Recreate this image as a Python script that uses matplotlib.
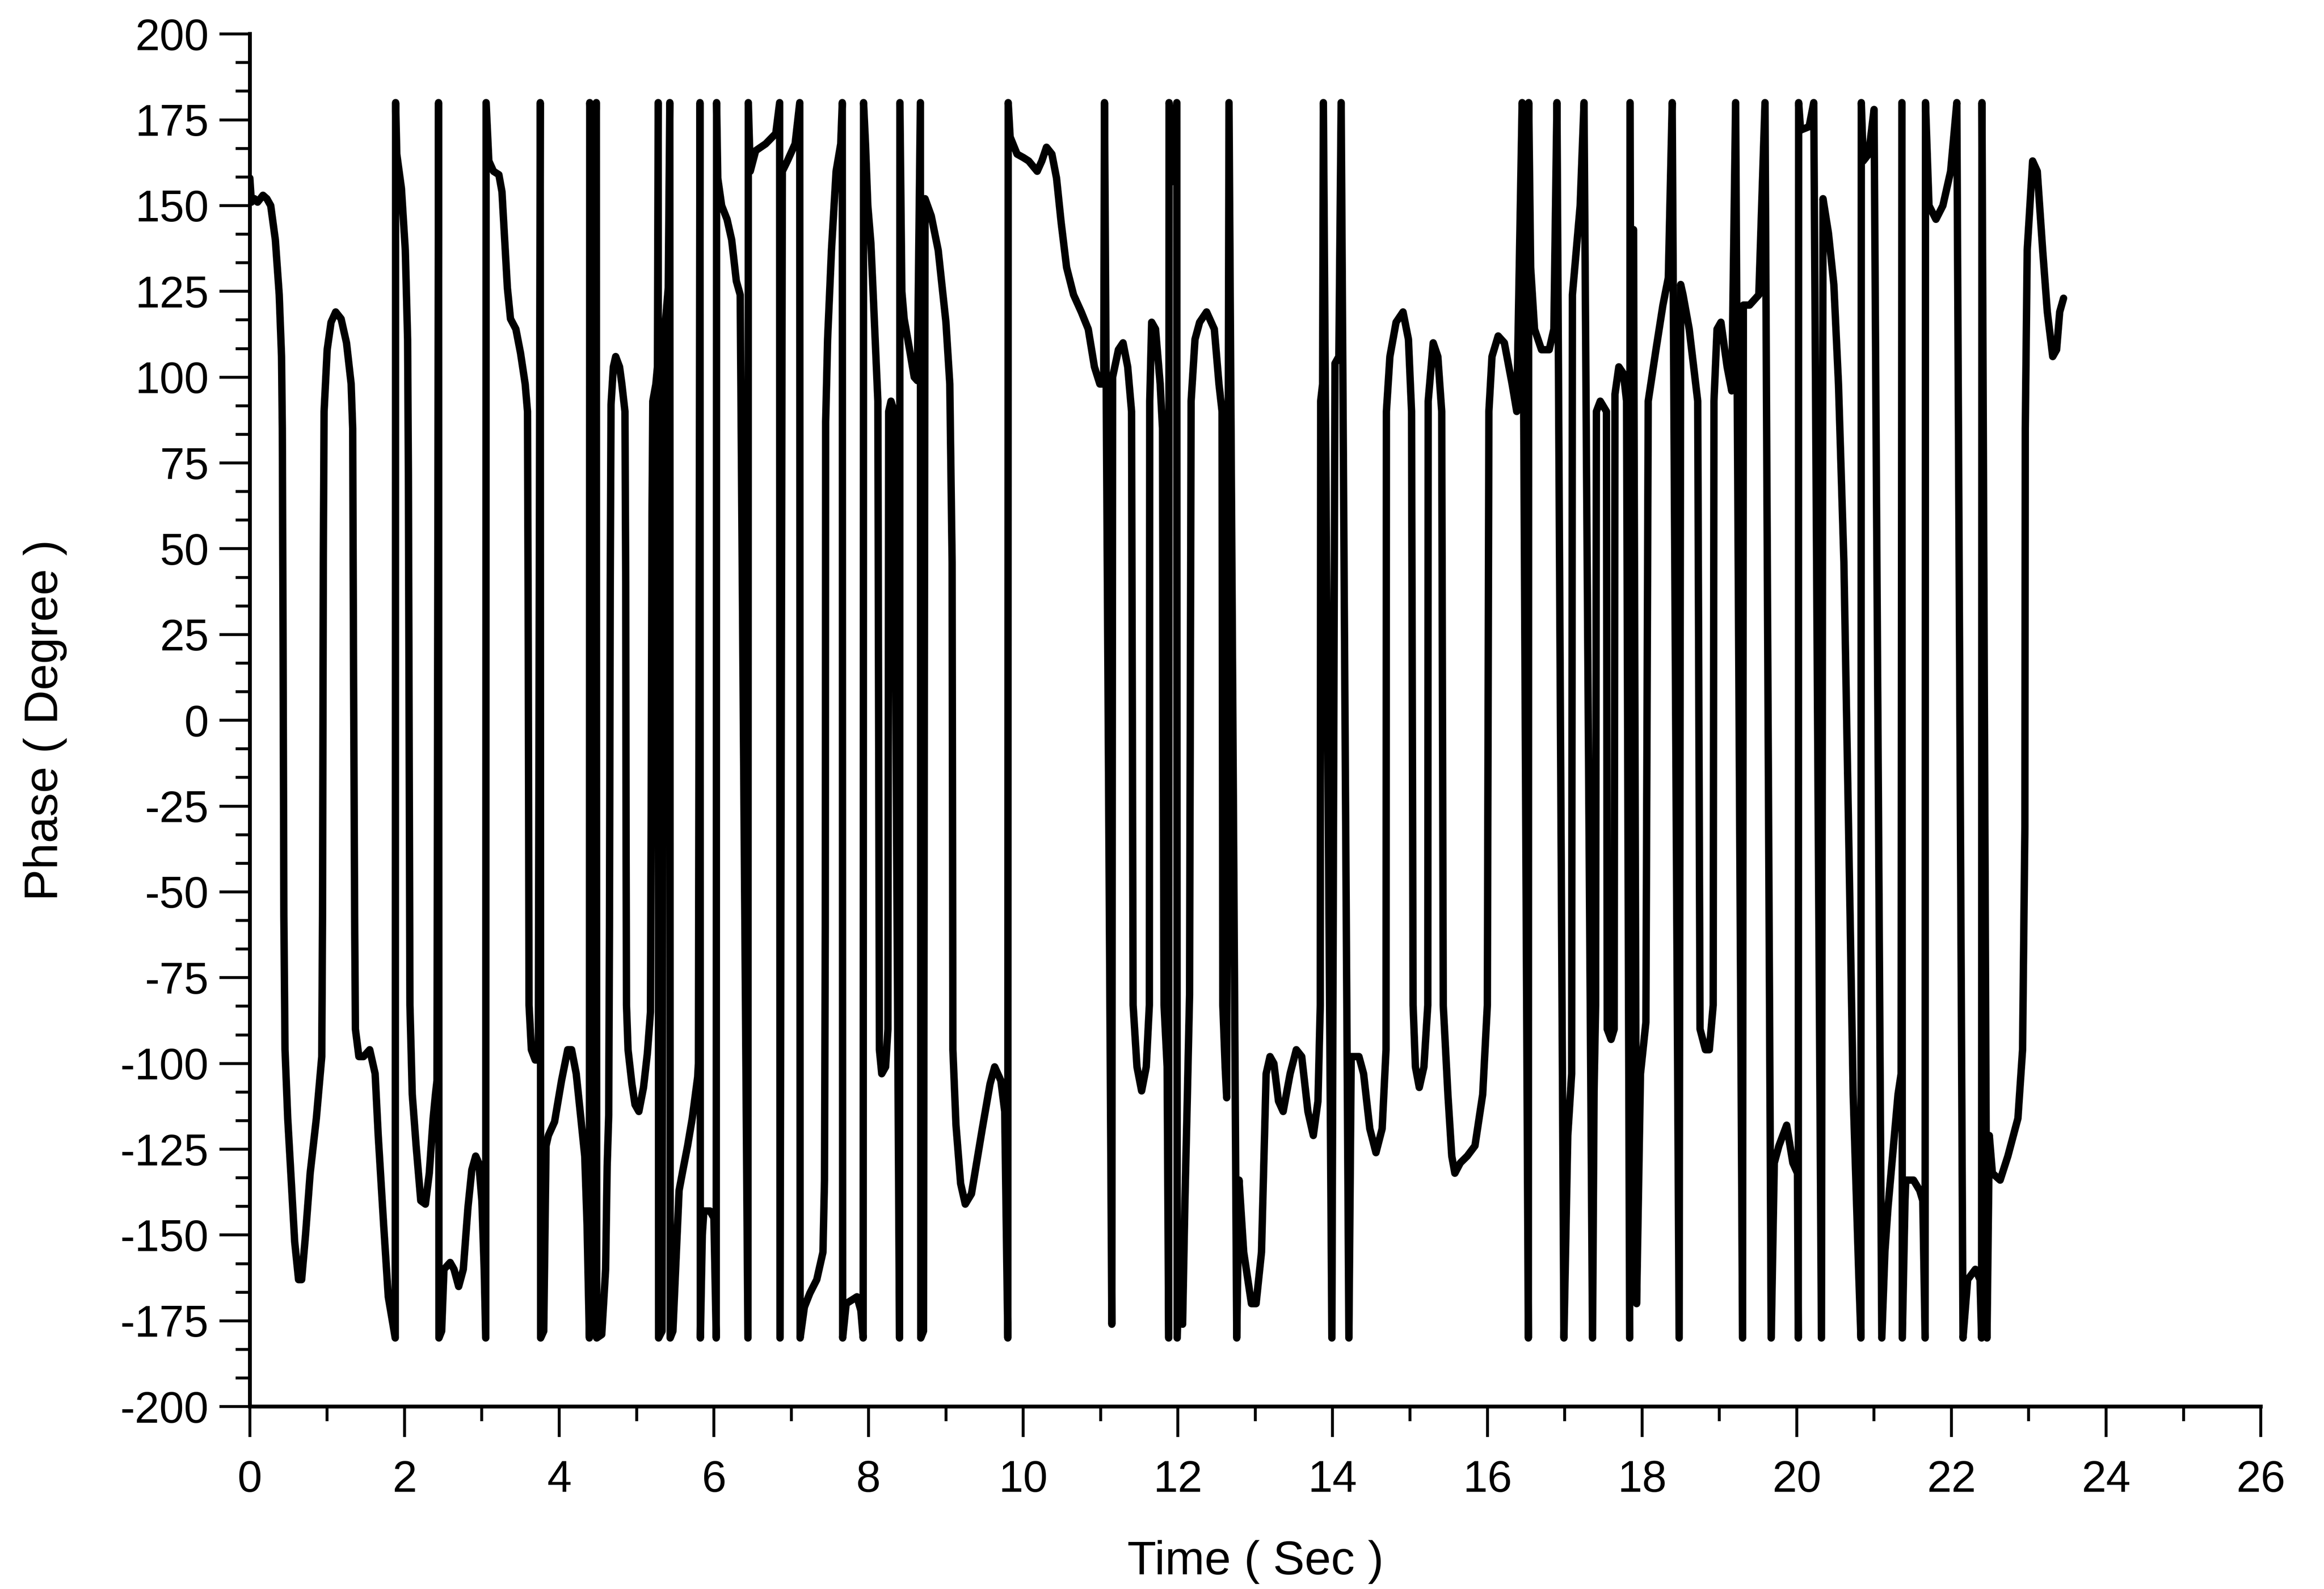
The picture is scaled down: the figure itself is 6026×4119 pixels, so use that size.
import matplotlib
matplotlib.use("Agg")
import matplotlib.pyplot as plt
from matplotlib.ticker import MultipleLocator, AutoMinorLocator

plt.rcParams['font.family'] = ['Liberation Sans', 'DejaVu Sans']
plt.rcParams['axes.unicode_minus'] = False

# ---- data (time in s, wrapped phase in degrees) ----
time_s = [
    0.00, 0.02, 0.06, 0.10, 0.17, 0.22, 0.27, 0.33, 0.38, 0.41, 0.42, 0.43, 0.44, 0.455, 0.49, 0.53,
    0.58, 0.63, 0.67, 0.72, 0.78, 0.86, 0.93, 0.94, 0.95, 0.96, 1.00, 1.05, 1.11, 1.18, 1.25, 1.31,
    1.33, 1.34, 1.355, 1.365, 1.41, 1.47, 1.55, 1.62, 1.66, 1.73, 1.79, 1.85, 1.88, 1.885, 1.90, 1.96,
    2.01, 2.04, 2.05, 2.06, 2.07, 2.10, 2.15, 2.21, 2.27, 2.32, 2.37, 2.40, 2.42, 2.44, 2.445, 2.48,
    2.51, 2.59, 2.64, 2.70, 2.76, 2.82, 2.87, 2.92, 2.96, 3.00, 3.03, 3.05, 3.055, 3.09, 3.15, 3.22,
    3.26, 3.29, 3.33, 3.37, 3.44, 3.50, 3.56, 3.59, 3.60, 3.61, 3.64, 3.69, 3.73, 3.755, 3.76, 3.80,
    3.83, 3.86, 3.94, 4.03, 4.11, 4.16, 4.22, 4.28, 4.33, 4.36, 4.39, 4.395, 4.42, 4.45, 4.48, 4.485,
    4.55, 4.60, 4.62, 4.64, 4.65, 4.66, 4.67, 4.70, 4.73, 4.78, 4.81, 4.85, 4.86, 4.865, 4.87, 4.89,
    4.94, 4.98, 5.03, 5.09, 5.14, 5.18, 5.19, 5.20, 5.21, 5.25, 5.27, 5.28, 5.285, 5.33, 5.345, 5.38,
    5.41, 5.43, 5.435, 5.47, 5.55, 5.60, 5.66, 5.72, 5.79, 5.80, 5.82, 5.825, 5.85, 5.87, 5.95, 6.00,
    6.03, 6.035, 6.05, 6.10, 6.17, 6.23, 6.29, 6.34, 6.44, 6.445, 6.47, 6.54, 6.67, 6.80, 6.85, 6.855,
    6.885, 6.95, 7.05, 7.11, 7.115, 7.17, 7.24, 7.33, 7.41, 7.43, 7.44, 7.445, 7.47, 7.52, 7.58, 7.64,
    7.66, 7.665, 7.71, 7.78, 7.85, 7.90, 7.93, 7.935, 7.96, 7.99, 8.03, 8.06, 8.12, 8.13, 8.14, 8.17,
    8.22, 8.25, 8.26, 8.29, 8.33, 8.40, 8.405, 8.43, 8.46, 8.53, 8.59, 8.63, 8.67, 8.675, 8.71, 8.73,
    8.81, 8.90, 9.00, 9.05, 9.08, 9.09, 9.13, 9.19, 9.25, 9.33, 9.47, 9.57, 9.63, 9.71, 9.76, 9.80,
    9.805, 9.83, 9.92, 10.00, 10.07, 10.18, 10.24, 10.30, 10.37, 10.43, 10.49, 10.56, 10.65, 10.75, 10.84, 10.92,
    10.99, 11.04, 11.05, 11.145, 11.155, 11.23, 11.29, 11.35, 11.40, 11.42, 11.47, 11.53, 11.59, 11.63, 11.635, 11.66,
    11.71, 11.77, 11.80, 11.82, 11.86, 11.88, 11.885, 11.93, 11.985, 11.99, 12.03, 12.06, 12.09, 12.12, 12.15, 12.17,
    12.22, 12.28, 12.37, 12.47, 12.53, 12.57, 12.58, 12.61, 12.63, 12.66, 12.76, 12.79, 12.85, 12.95, 13.01, 13.08,
    13.11, 13.14, 13.19, 13.24, 13.30, 13.36, 13.45, 13.53, 13.60, 13.68, 13.75, 13.81, 13.84, 13.845, 13.87, 13.88,
    13.99, 14.03, 14.08, 14.11, 14.21, 14.24, 14.34, 14.40, 14.48, 14.56, 14.64, 14.69, 14.695, 14.74, 14.82, 14.91,
    14.98, 15.02, 15.04, 15.07, 15.12, 15.18, 15.23, 15.235, 15.30, 15.36, 15.41, 15.43, 15.49, 15.54, 15.58, 15.65,
    15.74, 15.84, 15.94, 16.00, 16.02, 16.06, 16.14, 16.22, 16.32, 16.38, 16.45, 16.53, 16.535, 16.56, 16.61, 16.70,
    16.80, 16.86, 16.90, 16.99, 17.04, 17.09, 17.10, 17.15, 17.20, 17.25, 17.36, 17.38, 17.40, 17.41, 17.46, 17.54,
    17.55, 17.60, 17.64, 17.65, 17.70, 17.76, 17.80, 17.84, 17.845, 17.88, 17.89, 17.93, 17.98, 18.05, 18.08, 18.18,
    18.27, 18.34, 18.39, 18.48, 18.50, 18.53, 18.61, 18.72, 18.75, 18.82, 18.87, 18.92, 18.93, 18.97, 19.02, 19.10,
    19.16, 19.21, 19.30, 19.31, 19.39, 19.51, 19.59, 19.67, 19.71, 19.77, 19.87, 19.95, 20.01, 20.02, 20.025, 20.05,
    20.16, 20.22, 20.32, 20.34, 20.41, 20.48, 20.54, 20.61, 20.67, 20.73, 20.80, 20.83, 20.835, 20.86, 20.93, 21.00,
    21.10, 21.14, 21.18, 21.31, 21.35, 21.36, 21.365, 21.40, 21.41, 21.51, 21.59, 21.63, 21.66, 21.665, 21.71, 21.80,
    21.89, 21.99, 22.07, 22.15, 22.21, 22.31, 22.37, 22.39, 22.395, 22.46, 22.49, 22.53, 22.63, 22.73, 22.86, 22.92,
    22.95, 22.955, 22.98, 23.05, 23.11, 23.18, 23.24, 23.31, 23.36, 23.40, 23.45,
]

phase_deg = [
    158, 151, 152, 151, 153, 152, 150, 140, 124, 106, 85, 21, -57, -96, -116, -132,
    -152, -163, -163, -150, -132, -116, -98, -57, 46, 90, 108, 116, 119, 117, 110, 98,
    85, 21, -57, -90, -98, -98, -96, -103, -121, -147, -168, -176, -180, 180, 165, 155,
    137, 111, 72, -5, -83, -109, -124, -140, -141, -132, -116, -109, -105, 180, -180, -178,
    -160, -158, -160, -165, -160, -142, -131, -127, -129, -140, -160, -180, 180, 163, 160, 159,
    154, 142, 126, 117, 114, 107, 98, 90, 21, -83, -96, -99, -99, 180, -180, -178,
    -124, -121, -117, -105, -96, -96, -103, -116, -127, -147, -180, 180, 166, 164, 180, -180,
    -179, -160, -130, -115, -60, 40, 92, 103, 106, 103, 98, 90, 40, -40, -83, -96,
    -106, -112, -114, -107, -97, -85, -20, 60, 93, 98, 103, 180, -180, -178, 108, 118,
    126, 180, -180, -178, -137, -131, -124, -116, -104, -100, 180, -180, -150, -143, -143, -145,
    -180, 180, 158, 150, 146, 140, 128, 124, -180, 180, 160, 166, 168, 171, 180, -180,
    160, 163, 168, 180, -180, -171, -167, -163, -155, -134, -60, 87, 111, 137, 160, 168,
    180, -180, -170, -169, -168, -172, -180, 180, 168, 150, 139, 124, 93, 0, -96, -103,
    -101, -90, 90, 93, 90, -180, 180, 125, 117, 108, 100, 99, 180, -180, -178, 152,
    147, 137, 116, 98, 46, -96, -118, -135, -141, -138, -119, -106, -101, -105, -114, -180,
    180, 170, 165, 164, 163, 160, 163, 167, 165, 158, 145, 132, 124, 119, 114, 103,
    98, 98, 180, -176, 100, 108, 110, 103, 90, -83, -101, -108, -101, -83, 93, 116,
    114, 98, 85, -83, -101, -180, 180, 157, 180, -180, -150, -176, -140, -111, -80, 93,
    111, 116, 119, 114, 98, 90, -83, -101, -110, 180, -180, -134, -155, -170, -170, -155,
    -129, -103, -98, -100, -111, -114, -103, -96, -98, -114, -121, -111, -83, 93, 98, 180,
    -180, 104, 106, 180, -180, -98, -98, -103, -119, -126, -119, -96, 90, 106, 116, 119,
    111, 90, -83, -101, -107, -101, -83, 93, 110, 106, 90, -83, -109, -127, -132, -129,
    -127, -124, -109, -83, 90, 106, 112, 110, 98, 90, 180, -180, 180, 132, 114, 108,
    108, 114, 180, -180, -121, -103, 124, 137, 150, 180, -180, -108, -83, 90, 93, 90,
    -90, -93, -90, 95, 103, 101, 93, -180, 180, -103, 143, -170, -103, -88, 93, 108,
    121, 129, 180, -180, 127, 124, 114, 93, -90, -96, -96, -83, 93, 114, 116, 103,
    96, 180, -180, 121, 121, 124, 180, -180, -129, -124, -118, -129, -132, -180, 180, 172,
    173, 180, -180, 152, 142, 127, 98, 46, -31, -109, -160, -180, 180, 163, 165, 178,
    -180, -155, -142, -109, -103, 180, -180, -140, -134, -134, -137, -140, -180, 180, 150, 146,
    150, 160, 180, -180, -163, -160, -163, -180, 180, -180, -121, -132, -134, -127, -116, -96,
    -31, 85, 137, 163, 160, 137, 119, 106, 108, 119, 123,
]

x_ticks = [0, 2, 4, 6, 8, 10, 12, 14, 16, 18, 20, 22, 24, 26]
y_ticks = [-200, -175, -150, -125, -100, -75, -50, -25, 0, 25, 50, 75, 100, 125, 150, 175, 200]
x_label = "Time ( Sec )"
y_label = "Phase ( Degree )"

# ---- figure ----
fig = plt.figure(figsize=(6026 / 300, 4119 / 300), dpi=300)
ax = fig.add_axes([0.1075, 0.1148, 0.8653, 0.8638])

ax.plot(time_s, phase_deg, color='black', lw=4.6,
        solid_joinstyle='round', solid_capstyle='round')

ax.set_xlim(0, 26)
ax.set_ylim(-200, 200)
ax.set_xticks(x_ticks)
ax.set_yticks(y_ticks)
ax.xaxis.set_minor_locator(MultipleLocator(1))
ax.yaxis.set_minor_locator(AutoMinorLocator(3))

for s in ('top', 'right'):
    ax.spines[s].set_visible(False)
for s in ('left', 'bottom'):
    ax.spines[s].set_linewidth(2.4)

ax.tick_params(which='major', direction='out', length=19, width=1.8, labelsize=27.5)
ax.tick_params(axis='x', which='major', pad=14)
ax.tick_params(axis='y', which='major', pad=6.5)
ax.tick_params(which='minor', direction='out', length=9, width=1.8)

ax.set_xlabel(x_label, fontsize=29.5)
ax.set_ylabel(y_label, fontsize=29.5)
ax.xaxis.set_label_coords(0.5, -0.0973)
ax.yaxis.set_label_coords(-0.0909, 0.5)

fig.savefig('out.png', dpi=300, facecolor='white')
